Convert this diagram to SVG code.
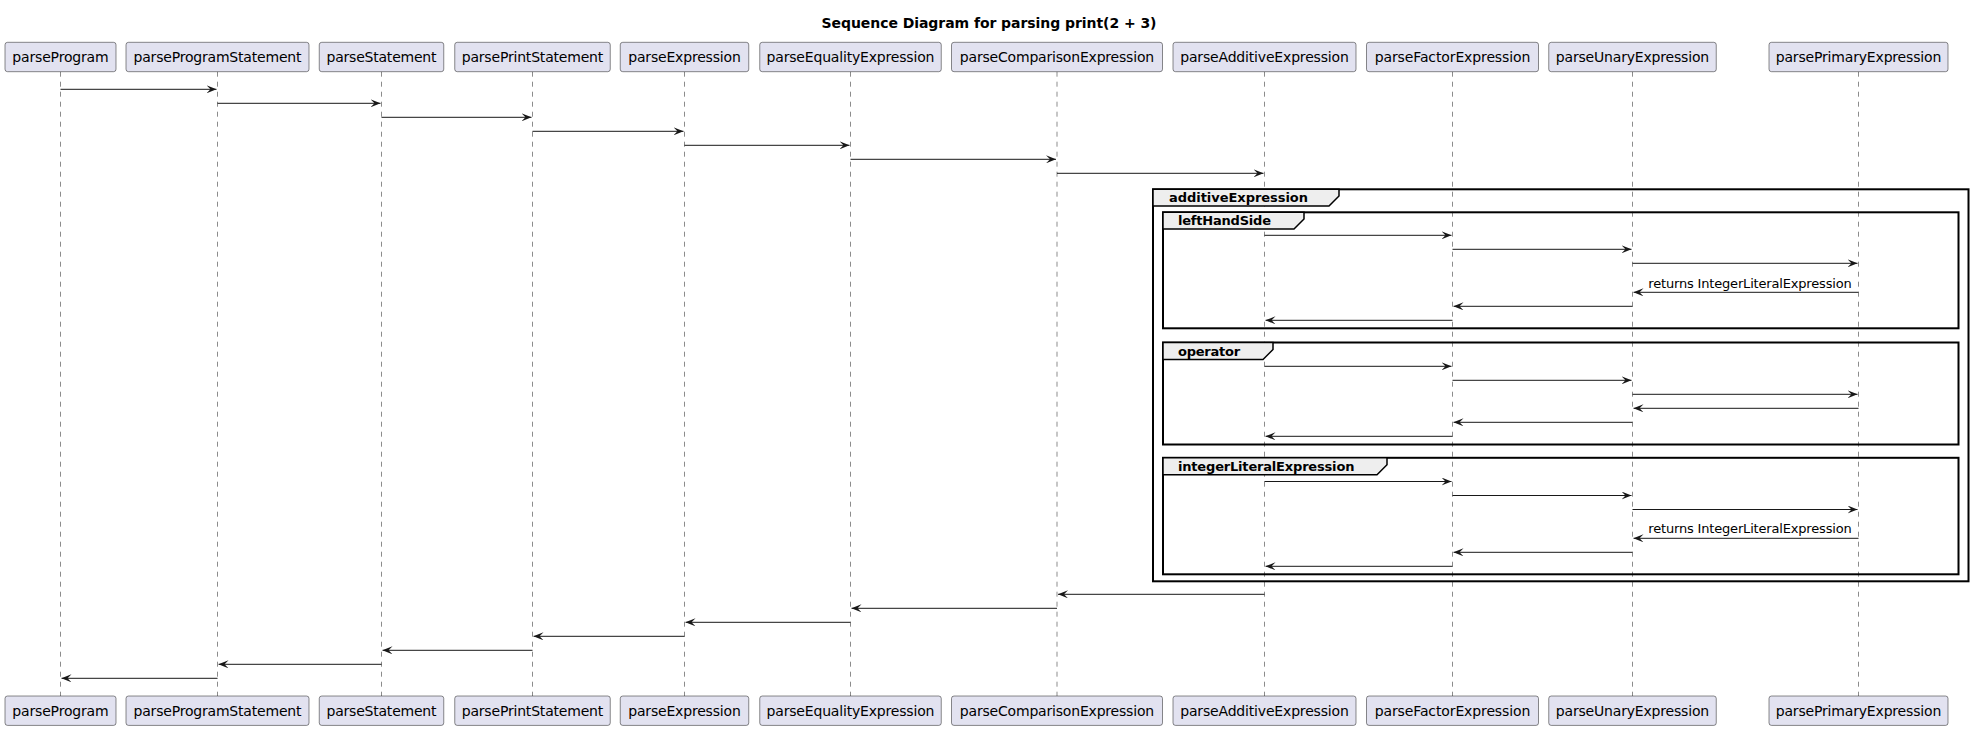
<svg xmlns="http://www.w3.org/2000/svg" width="1973" height="730" viewBox="0 0 1973 730">
  <defs>
    <marker id="ah" markerUnits="userSpaceOnUse" markerWidth="10" markerHeight="8" viewBox="0 0 10 8" refX="10" refY="4" orient="auto">
      <path d="M0,0 L10,4 L0,8 L4,4 Z" fill="#181818"/>
    </marker>
  </defs>
  <style>
    .box { fill: #E2E2F0; stroke: #181818; stroke-width: 0.5; }
    .pname { font-family: "DejaVu Sans", sans-serif; font-size: 14px; fill: #000000; text-anchor: middle; }
    .life { stroke: #181818; stroke-width: 0.5; stroke-dasharray: 5,5; fill: none; }
    .msg { stroke: #181818; stroke-width: 1; fill: none; marker-end: url(#ah); }
    .mlabel { font-family: "DejaVu Sans", sans-serif; font-size: 13px; fill: #000000; }
    .frame { fill: none; stroke: #000000; stroke-width: 2; }
    .tab { fill: #EEEEEE; stroke: #000000; stroke-width: 1.5; }
    .gname { font-family: "DejaVu Sans", sans-serif; font-size: 13px; font-weight: bold; fill: #000000; }
    .title { font-family: "DejaVu Sans", sans-serif; font-size: 14px; font-weight: bold; fill: #000000; text-anchor: middle; }
  </style>
  <rect width="1973" height="730" fill="#FFFFFF"/>

  <text class="title" x="989" y="28" textLength="335" lengthAdjust="spacing">Sequence Diagram for parsing print(2 + 3)</text>

  <!-- participants: head box, lifeline, foot box -->
  <g id="parseProgram">
    <line class="life" x1="60.5" y1="71.7" x2="60.5" y2="696"/>
    <rect class="box" x="5" y="42.3" width="111" height="29.4" rx="2.5"/>
    <text class="pname" x="60.5" y="62.3" textLength="96.3" lengthAdjust="spacing">parseProgram</text>
    <rect class="box" x="5" y="696" width="111" height="29.4" rx="2.5"/>
    <text class="pname" x="60.5" y="716" textLength="96.3" lengthAdjust="spacing">parseProgram</text>
  </g>
  <g id="parseProgramStatement">
    <line class="life" x1="217.5" y1="71.7" x2="217.5" y2="696"/>
    <rect class="box" x="126" y="42.3" width="183" height="29.4" rx="2.5"/>
    <text class="pname" x="217.5" y="62.3" textLength="168" lengthAdjust="spacing">parseProgramStatement</text>
    <rect class="box" x="126" y="696" width="183" height="29.4" rx="2.5"/>
    <text class="pname" x="217.5" y="716" textLength="168" lengthAdjust="spacing">parseProgramStatement</text>
  </g>
  <g id="parseStatement">
    <line class="life" x1="381.5" y1="71.7" x2="381.5" y2="696"/>
    <rect class="box" x="319.25" y="42.3" width="124.5" height="29.4" rx="2.5"/>
    <text class="pname" x="381.5" y="62.3" textLength="110" lengthAdjust="spacing">parseStatement</text>
    <rect class="box" x="319.25" y="696" width="124.5" height="29.4" rx="2.5"/>
    <text class="pname" x="381.5" y="716" textLength="110" lengthAdjust="spacing">parseStatement</text>
  </g>
  <g id="parsePrintStatement">
    <line class="life" x1="532.5" y1="71.7" x2="532.5" y2="696"/>
    <rect class="box" x="454.75" y="42.3" width="155.5" height="29.4" rx="2.5"/>
    <text class="pname" x="532.5" y="62.3" textLength="141.6" lengthAdjust="spacing">parsePrintStatement</text>
    <rect class="box" x="454.75" y="696" width="155.5" height="29.4" rx="2.5"/>
    <text class="pname" x="532.5" y="716" textLength="141.6" lengthAdjust="spacing">parsePrintStatement</text>
  </g>
  <g id="parseExpression">
    <line class="life" x1="684.5" y1="71.7" x2="684.5" y2="696"/>
    <rect class="box" x="620.25" y="42.3" width="128.5" height="29.4" rx="2.5"/>
    <text class="pname" x="684.5" y="62.3" textLength="112.6" lengthAdjust="spacing">parseExpression</text>
    <rect class="box" x="620.25" y="696" width="128.5" height="29.4" rx="2.5"/>
    <text class="pname" x="684.5" y="716" textLength="112.6" lengthAdjust="spacing">parseExpression</text>
  </g>
  <g id="parseEqualityExpression">
    <line class="life" x1="850.5" y1="71.7" x2="850.5" y2="696"/>
    <rect class="box" x="759.75" y="42.3" width="181.5" height="29.4" rx="2.5"/>
    <text class="pname" x="850.5" y="62.3" textLength="167.9" lengthAdjust="spacing">parseEqualityExpression</text>
    <rect class="box" x="759.75" y="696" width="181.5" height="29.4" rx="2.5"/>
    <text class="pname" x="850.5" y="716" textLength="167.9" lengthAdjust="spacing">parseEqualityExpression</text>
  </g>
  <g id="parseComparisonExpression">
    <line class="life" x1="1057" y1="71.7" x2="1057" y2="696"/>
    <rect class="box" x="951.5" y="42.3" width="211" height="29.4" rx="2.5"/>
    <text class="pname" x="1057" y="62.3" textLength="194.3" lengthAdjust="spacing">parseComparisonExpression</text>
    <rect class="box" x="951.5" y="696" width="211" height="29.4" rx="2.5"/>
    <text class="pname" x="1057" y="716" textLength="194.3" lengthAdjust="spacing">parseComparisonExpression</text>
  </g>
  <g id="parseAdditiveExpression">
    <line class="life" x1="1264.5" y1="71.7" x2="1264.5" y2="696"/>
    <rect class="box" x="1173" y="42.3" width="183" height="29.4" rx="2.5"/>
    <text class="pname" x="1264.5" y="62.3" textLength="168.6" lengthAdjust="spacing">parseAdditiveExpression</text>
    <rect class="box" x="1173" y="696" width="183" height="29.4" rx="2.5"/>
    <text class="pname" x="1264.5" y="716" textLength="168.6" lengthAdjust="spacing">parseAdditiveExpression</text>
  </g>
  <g id="parseFactorExpression">
    <line class="life" x1="1452.5" y1="71.7" x2="1452.5" y2="696"/>
    <rect class="box" x="1366.5" y="42.3" width="172" height="29.4" rx="2.5"/>
    <text class="pname" x="1452.5" y="62.3" textLength="155.6" lengthAdjust="spacing">parseFactorExpression</text>
    <rect class="box" x="1366.5" y="696" width="172" height="29.4" rx="2.5"/>
    <text class="pname" x="1452.5" y="716" textLength="155.6" lengthAdjust="spacing">parseFactorExpression</text>
  </g>
  <g id="parseUnaryExpression">
    <line class="life" x1="1632.5" y1="71.7" x2="1632.5" y2="696"/>
    <rect class="box" x="1548.75" y="42.3" width="167.5" height="29.4" rx="2.5"/>
    <text class="pname" x="1632.5" y="62.3" textLength="153.3" lengthAdjust="spacing">parseUnaryExpression</text>
    <rect class="box" x="1548.75" y="696" width="167.5" height="29.4" rx="2.5"/>
    <text class="pname" x="1632.5" y="716" textLength="153.3" lengthAdjust="spacing">parseUnaryExpression</text>
  </g>
  <g id="parsePrimaryExpression">
    <line class="life" x1="1858.5" y1="71.7" x2="1858.5" y2="696"/>
    <rect class="box" x="1769" y="42.3" width="179" height="29.4" rx="2.5"/>
    <text class="pname" x="1858.5" y="62.3" textLength="165.5" lengthAdjust="spacing">parsePrimaryExpression</text>
    <rect class="box" x="1769" y="696" width="179" height="29.4" rx="2.5"/>
    <text class="pname" x="1858.5" y="716" textLength="165.5" lengthAdjust="spacing">parsePrimaryExpression</text>
  </g>

  <!-- combined fragments -->
  <g id="additiveExpression">
    <rect class="frame" x="1153" y="189.3" width="815.5" height="392"/>
    <polygon class="tab" points="1153,189.3 1339,189.3 1339,196 1329,206 1153,206"/>
    <text class="gname" x="1169" y="202.3" textLength="139" lengthAdjust="spacing">additiveExpression</text>
  </g>
  <g id="leftHandSide">
    <rect class="frame" x="1163" y="212.3" width="795.5" height="116"/>
    <polygon class="tab" points="1163,212.3 1304,212.3 1304,219 1294,229 1163,229"/>
    <text class="gname" x="1178" y="225.3" textLength="93" lengthAdjust="spacing">leftHandSide</text>
  </g>
  <g id="operator">
    <rect class="frame" x="1163" y="342.5" width="795.5" height="102"/>
    <polygon class="tab" points="1163,342.5 1273,342.5 1273,349.5 1263,359.5 1163,359.5"/>
    <text class="gname" x="1178" y="355.5" textLength="62.2" lengthAdjust="spacing">operator</text>
  </g>
  <g id="integerLiteralExpression">
    <rect class="frame" x="1163" y="457.8" width="795.5" height="116.5"/>
    <polygon class="tab" points="1163,457.8 1387,457.8 1387,464.8 1377,474.8 1163,474.8"/>
    <text class="gname" x="1178" y="470.8" textLength="176.4" lengthAdjust="spacing">integerLiteralExpression</text>
  </g>

  <!-- messages -->
  <g id="messages">
    <line class="msg" x1="60.5" y1="89.3" x2="216.5" y2="89.3"/>
    <line class="msg" x1="217.5" y1="103.3" x2="380.5" y2="103.3"/>
    <line class="msg" x1="381.5" y1="117.3" x2="531.5" y2="117.3"/>
    <line class="msg" x1="532.5" y1="131.3" x2="683.5" y2="131.3"/>
    <line class="msg" x1="684.5" y1="145.3" x2="849.5" y2="145.3"/>
    <line class="msg" x1="850.5" y1="159.3" x2="1056" y2="159.3"/>
    <line class="msg" x1="1057" y1="173.3" x2="1263.5" y2="173.3"/>

    <line class="msg" x1="1264.5" y1="235.3" x2="1451.5" y2="235.3"/>
    <line class="msg" x1="1452.5" y1="249.3" x2="1631.5" y2="249.3"/>
    <line class="msg" x1="1632.5" y1="263.3" x2="1857.5" y2="263.3"/>
    <text class="mlabel" x="1648.3" y="287.8" textLength="203.4" lengthAdjust="spacing">returns IntegerLiteralExpression</text>
    <line class="msg" x1="1858.5" y1="292.3" x2="1633.5" y2="292.3"/>
    <line class="msg" x1="1632.5" y1="306.3" x2="1453.5" y2="306.3"/>
    <line class="msg" x1="1452.5" y1="320.3" x2="1265.5" y2="320.3"/>

    <line class="msg" x1="1264.5" y1="366.3" x2="1451.5" y2="366.3"/>
    <line class="msg" x1="1452.5" y1="380.3" x2="1631.5" y2="380.3"/>
    <line class="msg" x1="1632.5" y1="394.3" x2="1857.5" y2="394.3"/>
    <line class="msg" x1="1858.5" y1="408.3" x2="1633.5" y2="408.3"/>
    <line class="msg" x1="1632.5" y1="422.3" x2="1453.5" y2="422.3"/>
    <line class="msg" x1="1452.5" y1="436.3" x2="1265.5" y2="436.3"/>

    <line class="msg" x1="1264.5" y1="481.5" x2="1451.5" y2="481.5"/>
    <line class="msg" x1="1452.5" y1="495.5" x2="1631.5" y2="495.5"/>
    <line class="msg" x1="1632.5" y1="509.5" x2="1857.5" y2="509.5"/>
    <text class="mlabel" x="1648.3" y="533.3" textLength="203.4" lengthAdjust="spacing">returns IntegerLiteralExpression</text>
    <line class="msg" x1="1858.5" y1="538.3" x2="1633.5" y2="538.3"/>
    <line class="msg" x1="1632.5" y1="552.3" x2="1453.5" y2="552.3"/>
    <line class="msg" x1="1452.5" y1="566.3" x2="1265.5" y2="566.3"/>

    <line class="msg" x1="1264.5" y1="594.3" x2="1058" y2="594.3"/>
    <line class="msg" x1="1057" y1="608.3" x2="851.5" y2="608.3"/>
    <line class="msg" x1="850.5" y1="622.3" x2="685.5" y2="622.3"/>
    <line class="msg" x1="684.5" y1="636.3" x2="533.5" y2="636.3"/>
    <line class="msg" x1="532.5" y1="650.3" x2="382.5" y2="650.3"/>
    <line class="msg" x1="381.5" y1="664.3" x2="218.5" y2="664.3"/>
    <line class="msg" x1="217.5" y1="678.3" x2="61.5" y2="678.3"/>
  </g>
</svg>
